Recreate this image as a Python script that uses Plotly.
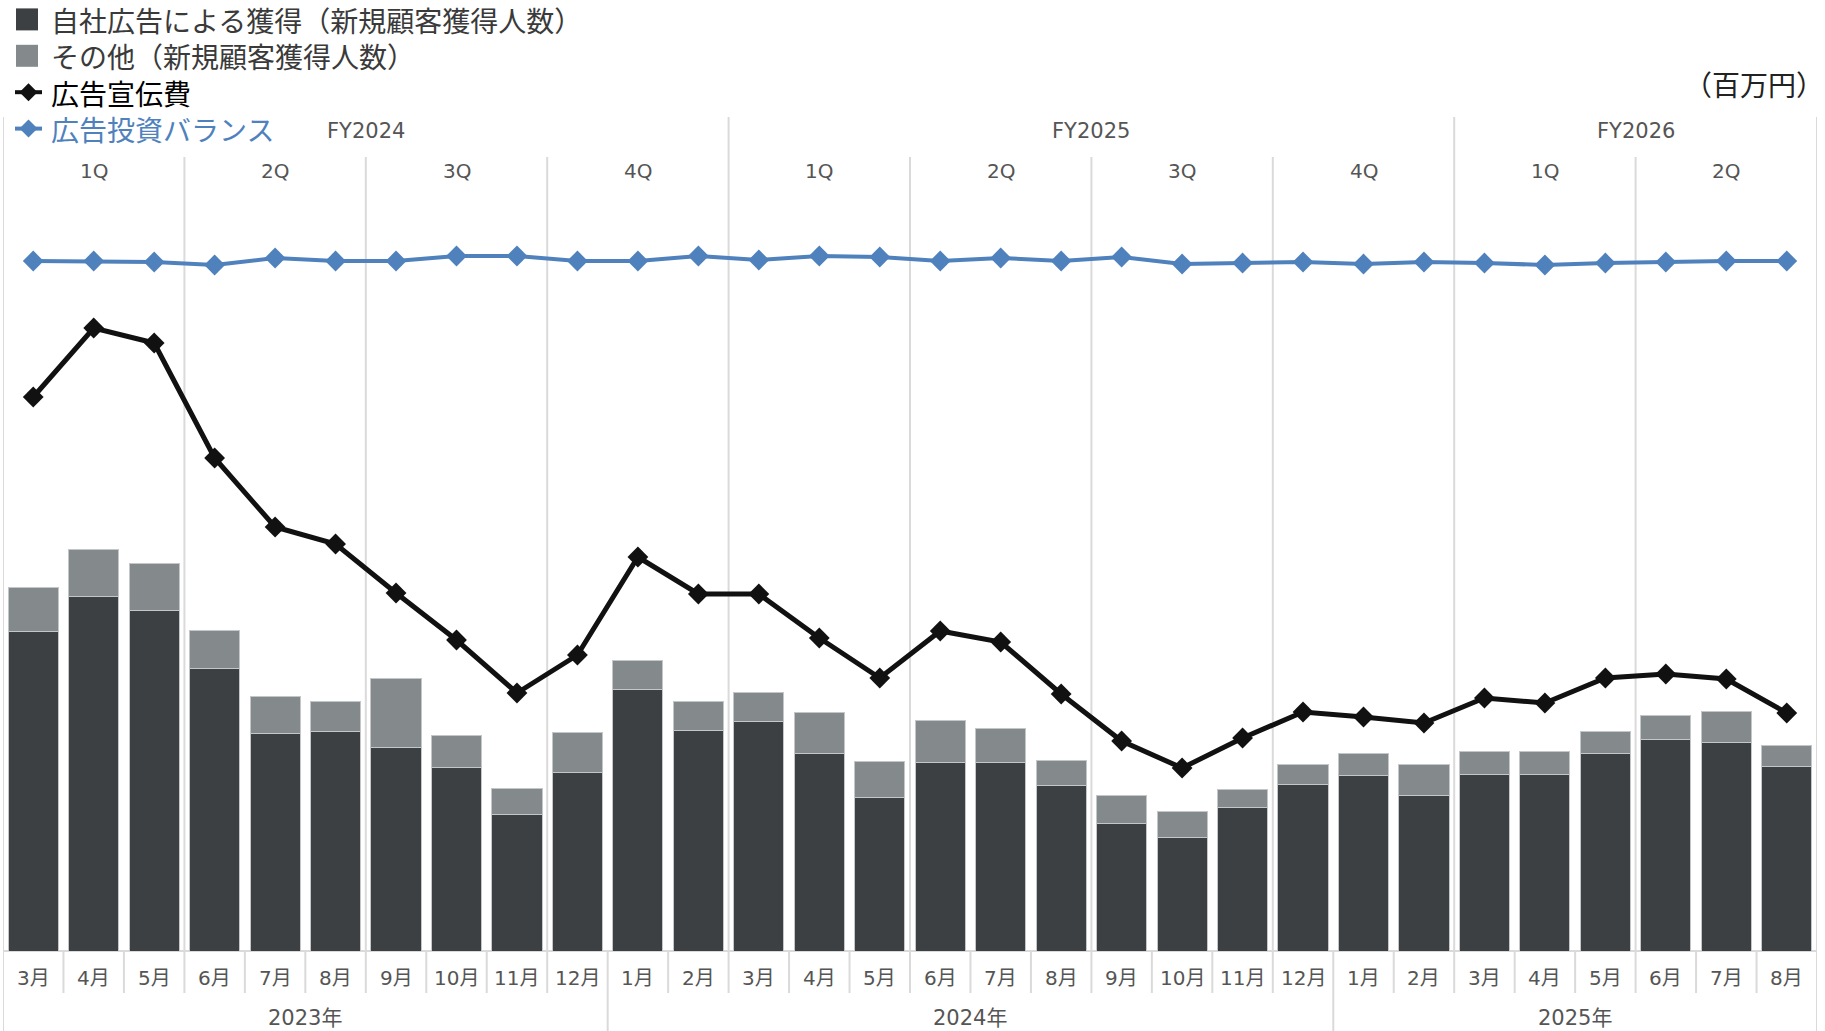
import plotly.graph_objects as go

# ---- data -------------------------------------------------------------
months = ["3月", "4月", "5月", "6月", "7月", "8月", "9月", "10月", "11月", "12月",
          "1月", "2月", "3月", "4月", "5月", "6月", "7月", "8月", "9月", "10月", "11月", "12月",
          "1月", "2月", "3月", "4月", "5月", "6月", "7月", "8月"]
years = ["2023年", "2024年", "2025年"]
year_spans = [(0, 9), (10, 21), (22, 29)]
fiscal_years = ["FY2024", "FY2025", "FY2026"]
fy_spans = [(0, 11), (12, 23), (24, 29)]
quarters = ["1Q", "2Q", "3Q", "4Q", "1Q", "2Q", "3Q", "4Q", "1Q", "2Q"]

# new customers acquired (people)
own_ads = [3200, 3550, 3410, 2830, 2180, 2200, 2040, 1840, 1370, 1790,
           2620, 2210, 2300, 1980, 1540, 1890, 1890, 1660, 1280, 1140, 1440, 1670,
           1760, 1560, 1770, 1770, 1980, 2120, 2090, 1850]
others = [440, 470, 470, 380, 370, 300, 690, 320, 260, 400,
          290, 290, 290, 410, 360, 420, 340, 250, 280, 260, 180, 200,
          220, 310, 230, 230, 220, 240, 310, 210]
# advertising (百万円)
ad_spend = [554, 623, 608, 493, 424, 407, 358, 311, 258, 296,
            394, 357, 357, 313, 273, 320, 309, 257, 210, 183, 213, 239,
            234, 228, 253, 248, 273, 277, 272, 238]
ad_balance = [690, 690, 689, 686, 693, 690, 690, 695, 695, 690,
              690, 695, 691, 695, 694, 690, 693, 690, 694, 687, 688, 689,
              687, 689, 688, 686, 688, 689, 690, 690]

# ---- geometry helpers ------------------------------------------------
W, H = 1825, 1031
ML, MR, MT, MB = 3, 8, 100, 80
PW, PH = W - ML - MR, H - MT - MB
BASE = H - MB


def px_x(px):
    return (px - ML) / PW


def px_y(py):
    return (BASE - py) / PH


JP_FONT = "Noto Sans CJK JP"
AXIS_FONT = "DejaVu Sans, Noto Sans CJK JP"
DARK = "#3d4043"
GRAY = "#848a8c"
BLACK = "#111111"
BLUE = "#4f81bd"
GRID = "#dadada"
LABEL = "#555555"

x = list(range(len(months)))

fig = go.Figure()
fig.add_trace(go.Bar(x=x, y=own_ads, name="自社広告による獲得（新規顧客獲得人数）",
                     marker=dict(color=DARK, line=dict(color="#c4c7c9", width=1)),
                     yaxis="y", showlegend=False))
fig.add_trace(go.Bar(x=x, y=others, name="その他（新規顧客獲得人数）",
                     marker=dict(color=GRAY, line=dict(color="#c4c7c9", width=1)),
                     yaxis="y", showlegend=False))
fig.add_trace(go.Scatter(x=x, y=ad_spend, name="広告宣伝費", mode="lines+markers",
                         line=dict(color=BLACK, width=5),
                         marker=dict(symbol="diamond", size=16, color=BLACK),
                         yaxis="y2", showlegend=False))
fig.add_trace(go.Scatter(x=x, y=ad_balance, name="広告投資バランス", mode="lines+markers",
                         line=dict(color=BLUE, width=4),
                         marker=dict(symbol="diamond", size=16, color=BLUE),
                         yaxis="y2", showlegend=False))

shapes = []
annotations = []

# baseline
shapes.append(dict(type="line", xref="x", yref="paper", x0=-0.5, x1=len(months) - 0.5,
                   y0=0, y1=0, line=dict(color=GRID, width=2), layer="below"))

# period separators: fiscal years reach highest, quarters below, months only under the axis
fy_bounds = {s for s, _ in fy_spans} | {len(months)}
yr_bounds = {s for s, _ in year_spans} | {len(months)}
for b in range(len(months) + 1):
    xb = b - 0.5
    if b in fy_bounds:
        top = 117
    elif b % 3 == 0:
        top = 157
    else:
        top = BASE
    bottom = H if b in yr_bounds else 993
    shapes.append(dict(type="line", xref="x", yref="paper", x0=xb, x1=xb,
                       y0=px_y(bottom), y1=px_y(top),
                       line=dict(color=GRID, width=2), layer="below"))


def label(xc, py, text, size, color=LABEL, xref="x", xanchor="center",
          family=AXIS_FONT, align="center"):
    annotations.append(dict(x=xc, y=px_y(py), xref=xref, yref="paper", text=text,
                            showarrow=False, xanchor=xanchor, yanchor="middle",
                            borderpad=0, align=align,
                            font=dict(family=family, size=size, color=color)))


for name, (s, e) in zip(fiscal_years, fy_spans):
    label((s + e) / 2, 131, name, 21)
for i, q in enumerate(quarters):
    label(3 * i + 1, 171, q, 20)
for i, m in enumerate(months):
    label(i, 978, m, 20)
for name, (s, e) in zip(years, year_spans):
    label((s + e) / 2, 1018, name, 21)

label(px_x(1825), 84, "（百万円）", 28, color="#222222", xref="paper",
      xanchor="right", family=JP_FONT)

# legend: one text block (line height 1.3em) with swatches alongside
legend_rows = [("自社広告による獲得（新規顧客獲得人数）", "box", DARK, "#3a3a3a"),
               ("その他（新規顧客獲得人数）", "box", GRAY, "#3a3a3a"),
               ("広告宣伝費", "line", BLACK, "#000000"),
               ("広告投資バランス", "line", BLUE, BLUE)]
LEG_SIZE = 28
LEG_MID = 74
step = 1.3 * LEG_SIZE
n = len(legend_rows)
row_y = [LEG_MID + (i - (n - 1) / 2) * step for i in range(n)]
for (text, kind, color, tcolor), py in zip(legend_rows, row_y):
    if kind == "box":
        shapes.append(dict(type="rect", xref="paper", yref="paper",
                           x0=px_x(16), x1=px_x(38), y0=px_y(py + 11), y1=px_y(py - 11),
                           fillcolor=color, line=dict(width=0)))
    else:
        shapes.append(dict(type="line", xref="paper", yref="paper",
                           x0=px_x(15), x1=px_x(42), y0=px_y(py), y1=px_y(py),
                           line=dict(color=color, width=4)))
        cx, r = 28.5, 9
        path = (f"M {px_x(cx - r)} {px_y(py)} L {px_x(cx)} {px_y(py - r)} "
                f"L {px_x(cx + r)} {px_y(py)} L {px_x(cx)} {px_y(py + r)} Z")
        shapes.append(dict(type="path", xref="paper", yref="paper", path=path,
                           fillcolor=color, line=dict(width=0)))

legend_text = "<br>".join(f'<span style="color:{tc}">{t}</span>'
                          for t, _, _, tc in legend_rows)
label(px_x(50), LEG_MID, legend_text, LEG_SIZE, color="#3a3a3a", xref="paper",
      xanchor="left", family=JP_FONT, align="left")

fig.update_layout(
    width=W, height=H,
    margin=dict(l=ML, r=MR, t=MT, b=MB),
    paper_bgcolor="white", plot_bgcolor="white",
    barmode="stack", bargap=0.17,
    xaxis=dict(range=[-0.5, len(months) - 0.5], showticklabels=False, showgrid=False,
               zeroline=False, showline=False, ticks=""),
    yaxis=dict(range=[0, 8510], visible=False),
    yaxis2=dict(range=[0, 851], visible=False, overlaying="y"),
    shapes=shapes,
    annotations=annotations,
    font=dict(family=JP_FONT),
)

fig.write_html("out.html")
